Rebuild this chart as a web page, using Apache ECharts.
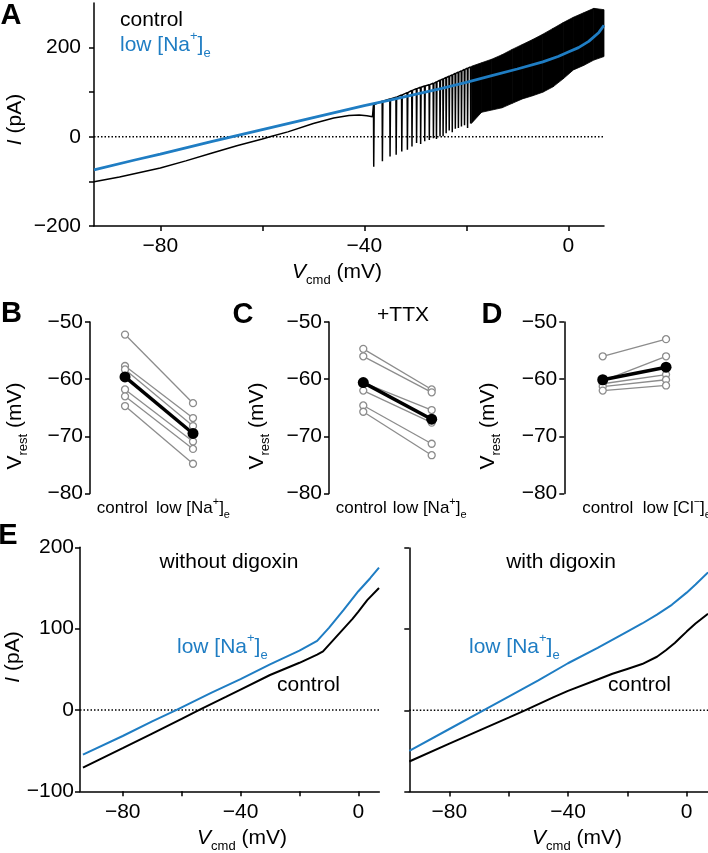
<!DOCTYPE html>
<html><head><meta charset="utf-8">
<script src="https://cdn.jsdelivr.net/npm/echarts@6/dist/echarts.min.js"></script>
<style>html,body{margin:0;padding:0;background:#fff}#c{width:708px;height:853px}</style>
</head><body><div id="c"></div>
<script>
const F = 'Liberation Sans, Arial, Helvetica, sans-serif';
const BLUE = '#1f7dc3';
const GRAY = '#8c8c8c';

// ---------- Panel A data ----------
const aNaV  = [-93,-85,-80,-70,-60,-50,-40,-35,-30,-25,-20,-15,-10,-5,-2,0,2,4,6,7];
const aNaI  = [-74,-52,-39,-11,16,43,70,82,95,108,122,137,152,168,180,190,200,214,234,250];
const aCtrlV = [-93,-88,-84,-80,-75,-70,-65,-60,-58.5,-55,-50,-46,-43,-41,-39.5,-38.4];
const aCtrlI = [-101,-90,-80,-70,-54,-37,-20,-5,0,11,30,42,48,49,47,45];
const aSpikeV      = [-38.2,-36.5,-35.0,-33.8,-32.7,-31.6,-30.7,-29.8,-29.0,-28.2,-27.3,-26.5,-25.9,-25.2,-24.6,-24.0,-23.4,-22.8,-22.2,-21.6,-21.0,-20.4,-19.8,-19.2];
const aSpikeTop    = [72,80,85,89,94,99,104,108,111,114,117,120,123,127,130,133,136,139,142,145,148,151,154,157];
const aSpikeTrough = [-67,-55,-44,-40,-33,-29,-22,-14,-16,-10,-7,-3,-5,1,1,8,14,10,18,20,23,26,20,30];
const aBandV    = [-19,-17,-15,-13,-11,-9,-7,-5,-3,-1,1,3,5,7];
const aBandLow  = [30,55,60,65,75,85,92,100,112,130,150,160,172,180];
const aBandHigh = [158,166,174,184,196,207,218,230,243,256,268,278,288,285];
const aXTicks = [-80,-60,-40,-20,0], aXLabels = [-80,-40,0];
const aYTicks = [-200,-100,0,100,200], aYLabels = [-200,0,200];

// ---------- Panels B, C, D data (V_rest, mV) ----------
const bCtrl = [-52.2,-57.7,-58.3,-61.8,-63.0,-64.7];
const bLow  = [-64.2,-66.8,-68.2,-70.9,-72.2,-74.8];
const bMean = [-59.6,-69.5];
const cCtrl = [-54.7,-56.0,-60.6,-62.0,-64.6,-65.7];
const cLow  = [-61.8,-62.3,-65.4,-67.6,-71.3,-73.3];
const cMean = [-60.6,-67.0];
const dCtrl = [-56.0,-60.3,-60.8,-61.3,-62.0];
const dLow  = [-53.0,-56.0,-59.2,-60.1,-61.1];
const dMean = [-60.1,-57.9];
const vrestTicks = [-80,-70,-60,-50];

// ---------- Panel E data ----------
const eNoNaV = [-93.5,-80,-70,-61.7,-50,-40,-30,-20,-14,-10,-5,0,4,7];
const eNoNaI = [-55,-32,-14,0,21,38,56,73,85,101,123,146,162,175];
const eNoCtV = [-93.5,-80,-70,-60,-54,-45,-40,-30,-20,-14,-12,-10,-8,-5,-2,0,3,7];
const eNoCtI = [-71,-47,-29,-11,0,16,25,43,58,68,72,80,88,100,112,121,135,150];
const eDigNaV = [-93.5,-80,-68.5,-60,-50,-40,-30,-20,-15,-10,-5,0,3,7.2];
const eDigNaI = [-50,-23,0,17,37,58,77,97,107,118,130,145,155,170];
const eDigCtV = [-93.5,-80,-70,-60,-54.5,-45,-40,-30,-25,-20,-15,-10,-7,-4,-2,0,3,7.2];
const eDigCtI = [-63,-41,-25,-9,0,16,24,38,45,51,57,66,74,83,90,97,107,119];
const eXTicks = [-80,-60,-40,-20,0], eXLabels = [-80,-40,0];
const eYTicks = [-100,0,100,200];

// ---------- helpers ----------
const minus = v => String(v).replace('-', '\u2212');
const zip = (xs, ys) => xs.map((x, i) => [x, ys[i]]);
const RICH = {
  n:   {fontSize:21, fontFamily:F, lineHeight:30},
  i:   {fontSize:21, fontFamily:F, fontStyle:'italic', lineHeight:30},
  sub: {fontSize:13, fontFamily:F, lineHeight:13, verticalAlign:'bottom'},
  sup: {fontSize:13, fontFamily:F, lineHeight:13, verticalAlign:'top'}
};
const CRICH = {
  n:   {fontSize:17, fontFamily:F, lineHeight:24, color:'#000'},
  sub: {fontSize:11, fontFamily:F, lineHeight:11, verticalAlign:'bottom', color:'#000'},
  sup: {fontSize:11, fontFamily:F, lineHeight:11, verticalAlign:'top', color:'#000'}
};
function numAxis(gi, min, max, ticks, labels, margin, showLabels) {
  return {
    type:'value', gridIndex:gi, min:min, max:max,
    axisLine:{show:true, onZero:false, lineStyle:{color:'#000', width:1.5}},
    axisTick:{show:true, inside:false, length:5, lineStyle:{color:'#000', width:1.5}, customValues:ticks},
    axisLabel:{show:showLabels !== false, customValues:labels, margin:margin, color:'#000',
      fontSize:21, fontFamily:F, formatter:minus},
    splitLine:{show:false}
  };
}
function catAxis(gi, min, max, labelPos, lowLabel) {
  return {
    type:'value', gridIndex:gi, min:min, max:max,
    axisLine:{show:false, onZero:false}, axisTick:{show:false}, splitLine:{show:false},
    axisLabel:{show:true, customValues:labelPos, margin:3, color:'#000', fontFamily:F,
      formatter: v => v < 0.5 ? '{n|control}' : lowLabel, rich:CRICH}
  };
}
function line(xi, data, color, width, extra) {
  return Object.assign({type:'line', xAxisIndex:xi, yAxisIndex:xi, data:data, symbol:'none',
    lineStyle:{color:color, width:width}, itemStyle:{color:color}, animation:false, silent:true}, extra || {});
}
function zeroLine(xi, min, max) {
  return line(xi, [[min,0],[max,0]], '#000', 1.5, {lineStyle:{color:'#000', width:1.5, type:[1.5,2]}});
}
function pairSeries(xi, ctrl, low, mean) {
  const out = [];
  ctrl.forEach((c, k) => out.push(line(xi, [[0,c],[1,low[k]]], GRAY, 1.3, {
    symbol:'circle', symbolSize:7, showSymbol:true,
    itemStyle:{color:'#fff', borderColor:GRAY, borderWidth:1.3}})));
  out.push(line(xi, [[0,mean[0]],[1,mean[1]]], '#000', 3.5, {
    symbol:'circle', symbolSize:11, showSymbol:true, itemStyle:{color:'#000'}}));
  return out;
}

// black trace of panel A: pre-spike part + one narrow deflection per spike
const aCtrlData = zip(aCtrlV, aCtrlI);
aSpikeV.forEach((v, k) => {
  aCtrlData.push([v, aSpikeTop[k]]);
  aCtrlData.push([v + 0.05, aSpikeTrough[k]]);
  aCtrlData.push([v + 0.14, aSpikeTop[k]]);
});
aCtrlData.push([aBandV[0], aBandHigh[0]]);

// dense firing band of panel A: filled between lower and upper envelopes
const bandSeries = {
  type:'custom', xAxisIndex:0, yAxisIndex:0, coordinateSystem:'cartesian2d', silent:true, animation:false,
  data: aBandV.map((v, k) => [v, aBandLow[k], aBandHigh[k]]),
  encode:{x:0, y:[1,2]},
  renderItem: function (params, api) {
    const i = params.dataIndex;
    if (i >= aBandV.length - 1) return null;
    const pts = [
      api.coord([aBandV[i], aBandLow[i]]),
      api.coord([aBandV[i+1], aBandLow[i+1]]),
      api.coord([aBandV[i+1], aBandHigh[i+1]]),
      api.coord([aBandV[i], aBandHigh[i]])
    ];
    return {type:'polygon', shape:{points:pts}, style:{fill:'#000', stroke:'#000', lineWidth:0.8}};
  }
};

const grids = [
  {left:94, top:3, width:510, height:223},
  {left:90, top:322, width:137, height:171.5},
  {left:329, top:322, width:136.9, height:171.5},
  {left:564.3, top:322, width:133.4, height:171.5},
  {left:80, top:547.3, width:299.3, height:244},
  {left:409.3, top:548, width:298.7, height:243.5}
].map(g => Object.assign({containLabel:false, outerBoundsMode:'none', show:false}, g));

const lowNa = '{n|low [Na}{sup|+}{n|]}{sub|e}';
const lowCl = '{n|low [Cl}{sup|\u2212}{n|]}{sub|e}';

const xAxes = [
  numAxis(0, -93, 7, aXTicks, aXLabels, 10),
  catAxis(1, -0.515, 1.5, [-0.04, 1.0], lowNa),
  catAxis(2, -0.501, 1.5, [-0.03, 0.97], lowNa),
  catAxis(3, -0.607, 1.5, [0.08, 1.17], lowCl),
  numAxis(4, -94.5, 7.1, eXTicks, eXLabels, 10),
  numAxis(5, -93.5, 7.2, eXTicks, eXLabels, 10)
];
const yAxes = [
  numAxis(0, -200, 300, aYTicks, aYLabels, 13),
  numAxis(1, -80, -50, vrestTicks, vrestTicks, 7),
  numAxis(2, -80, -50, vrestTicks, vrestTicks, 7),
  numAxis(3, -80, -50, vrestTicks, vrestTicks, 7),
  numAxis(4, -100, 200, eYTicks, eYTicks, 6),
  numAxis(5, -100, 200, eYTicks, [], 6, false)
];

const series = [
  zeroLine(0, -93, 7),
  line(0, aCtrlData, '#000', 1.5),
  bandSeries,
  line(0, zip(aNaV, aNaI), BLUE, 2.8),
  ...pairSeries(1, bCtrl, bLow, bMean),
  ...pairSeries(2, cCtrl, cLow, cMean),
  ...pairSeries(3, dCtrl, dLow, dMean),
  zeroLine(4, -94.5, 7.1),
  line(4, zip(eNoCtV, eNoCtI), '#000', 2),
  line(4, zip(eNoNaV, eNoNaI), BLUE, 2),
  zeroLine(5, -93.5, 7.2),
  line(5, zip(eDigCtV, eDigCtI), '#000', 2),
  line(5, zip(eDigNaV, eDigNaI), BLUE, 2)
];

function txt(x, y, text, opt) {
  opt = opt || {};
  return {
    type:'text', x:x, y:y, rotation:opt.rot || 0, silent:true, z:100,
    style:{text:text, rich:RICH, fill:opt.color || '#000',
      font:(opt.bold ? 'bold ' : '') + (opt.size || 21) + 'px ' + F,
      align:opt.align || 'center', verticalAlign:'middle',
      textAlign:opt.align || 'center', textVerticalAlign:'middle'}
  };
}
const R90 = Math.PI / 2;
const graphics = [
  txt(11, 15.5, 'A', {bold:true, size:29}),
  txt(11.5, 314, 'B', {bold:true, size:29}),
  txt(243, 315, 'C', {bold:true, size:29}),
  txt(492, 315, 'D', {bold:true, size:29}),
  txt(8, 536, 'E', {bold:true, size:29}),
  txt(120, 20, '{n|control}', {align:'left'}),
  txt(120, 45, lowNa, {align:'left', color:BLUE}),
  txt(337, 272, '{i|V}{sub|cmd}{n| (mV)}'),
  txt(15.5, 119.5, '{i|I}{n| (pA)}', {rot:R90}),
  txt(15, 426, '{n|V}{sub|rest}{n| (mV)}', {rot:R90}),
  txt(257, 426, '{n|V}{sub|rest}{n| (mV)}', {rot:R90}),
  txt(488, 426, '{n|V}{sub|rest}{n| (mV)}', {rot:R90}),
  txt(403, 315, '{n|+TTX}'),
  txt(13, 657, '{i|I}{n| (pA)}', {rot:R90}),
  txt(242, 838, '{i|V}{sub|cmd}{n| (mV)}'),
  txt(577, 838, '{i|V}{sub|cmd}{n| (mV)}'),
  txt(229, 562, '{n|without digoxin}'),
  txt(561, 562, '{n|with digoxin}'),
  txt(177, 647, lowNa, {align:'left', color:BLUE}),
  txt(277, 685, '{n|control}', {align:'left'}),
  txt(469, 647, lowNa, {align:'left', color:BLUE}),
  txt(608, 685, '{n|control}', {align:'left'})
];

const chart = echarts.init(document.getElementById('c'), null, {renderer:'canvas'});
chart.setOption({
  animation:false,
  backgroundColor:'#fff',
  grid:grids, xAxis:xAxes, yAxis:yAxes, series:series,
  graphic:{elements:graphics}
});
</script>
</body></html>
